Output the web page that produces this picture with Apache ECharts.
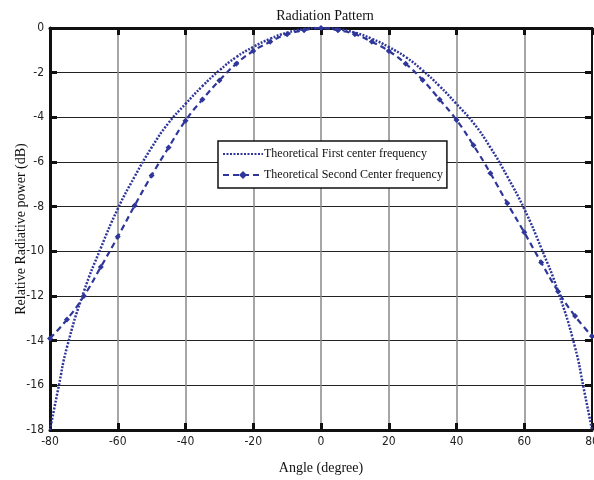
<!DOCTYPE html>
<html>
<head>
<meta charset="utf-8">
<script src="https://cdn.jsdelivr.net/npm/echarts@6/dist/echarts.min.js"></script>
<style>html,body{margin:0;padding:0;background:#fff;}#c{width:594px;height:480px;}</style>
</head>
<body>
<div id="c"></div>
<script>
var titleText = 'Radiation Pattern';
var xName = 'Angle (degree)';
var yName = 'Relative Radiative power (dB)';
var seriesNames = ['Theoretical First center frequency', 'Theoretical Second Center frequency'];

var anglesFirst = [-80,-77.5,-75,-70,-65,-60,-55,-50,-45,-40,-35,-30,-25,-20,-15,-10,-5,0,5,10,15,20,25,30,35,40,45,50,55,60,65,70,75,77.5,80];
var firstFreq = [-18,-16.1,-14.3,-11.8,-9.85,-8.1,-6.65,-5.35,-4.25,-3.4,-2.6,-1.9,-1.3,-0.85,-0.48,-0.21,-0.05,0,-0.05,-0.21,-0.48,-0.85,-1.3,-1.9,-2.6,-3.4,-4.25,-5.35,-6.65,-8.1,-9.85,-11.8,-14.3,-16.1,-18];

var anglesSecond = [-80,-75,-70,-65,-60,-55,-50,-45,-40,-35,-30,-25,-20,-15,-10,-5,0,5,10,15,20,25,30,35,40,45,50,55,60,65,70,75,80];
var secondFreq = [-13.9,-13.05,-12.0,-10.7,-9.35,-7.95,-6.6,-5.35,-4.15,-3.2,-2.35,-1.6,-1.03,-0.62,-0.28,-0.1,0,-0.1,-0.28,-0.62,-1.03,-1.6,-2.33,-3.2,-4.12,-5.25,-6.5,-7.85,-9.15,-10.5,-11.8,-12.9,-13.8];

var blue = '#2f3699';
function pairs(xs, ys){ return xs.map(function(x,i){ return [x, ys[i]]; }); }

var tickFont = {fontFamily: '"DejaVu Sans Condensed","Liberation Sans Narrow","Liberation Sans",sans-serif', fontSize: 12, color: '#222'};
var serif = '"Liberation Serif","DejaVu Serif",serif';

var chart = echarts.init(document.getElementById('c'), null, {renderer: 'canvas'});
chart.setOption({
  backgroundColor: '#fff',
  animation: false,
  title: {text: titleText, left: 320, textAlign: 'center', top: 4, textStyle: {fontFamily: serif, fontSize: 14, fontWeight: 'normal', color: '#111'}},
  grid: {left: 50, right: 2, top: 28, bottom: 50, show: true, borderColor: '#111', borderWidth: 2, containLabel: false, outerBoundsMode: 'none'},
  legend: {
    orient: 'vertical', left: 218, top: 141, width: 225,
    backgroundColor: '#fff', borderColor: '#111', borderWidth: 1.5, borderRadius: 0,
    padding: [7, 4, 7, 4], itemGap: 9, itemWidth: 40, itemHeight: 10,
    textStyle: {fontFamily: serif, fontSize: 12, color: '#111', padding: [0,0,0,-4]},
    data: [{name: seriesNames[0], itemStyle: {opacity: 0}}, {name: seriesNames[1]}]
  },
  xAxis: [{
    type: 'value', min: -80, max: 80, interval: 20, position: 'bottom',
    name: xName, nameLocation: 'middle', nameGap: 31, nameMoveOverlap: false,
    nameTextStyle: {fontFamily: serif, fontSize: 14, color: '#111'},
    axisLine: {show: true, onZero: false, lineStyle: {color: '#111', width: 3}},
    axisTick: {show: true, inside: true, length: 7, lineStyle: {color: '#111', width: 3}},
    axisLabel: Object.assign({margin: 6}, tickFont),
    splitLine: {show: true, lineStyle: {color: '#888', width: 1.5}}
  }, {
    type: 'value', min: -80, max: 80, interval: 20, position: 'top',
    axisLine: {show: true, onZero: false, lineStyle: {color: '#111', width: 3}},
    axisTick: {show: true, inside: true, length: 7, lineStyle: {color: '#111', width: 3}},
    axisLabel: {show: false}, splitLine: {show: false}
  }],
  yAxis: [{
    type: 'value', min: -18, max: 0, interval: 2, position: 'left',
    name: yName, nameLocation: 'middle', nameGap: 22, nameRotate: 90, nameMoveOverlap: false,
    nameTextStyle: {fontFamily: serif, fontSize: 14, color: '#111'},
    axisLine: {show: true, onZero: false, lineStyle: {color: '#111', width: 3}},
    axisTick: {show: true, inside: true, length: 7, lineStyle: {color: '#111', width: 3}},
    axisLabel: Object.assign({margin: 6}, tickFont),
    splitLine: {show: true, lineStyle: {color: '#222', width: 1.2}}
  }, {
    type: 'value', min: -18, max: 0, interval: 2, position: 'right',
    axisLine: {show: true, onZero: false, lineStyle: {color: '#111', width: 2}},
    axisTick: {show: true, inside: true, length: 7, lineStyle: {color: '#111', width: 3}},
    axisLabel: {show: false}, splitLine: {show: false}
  }],
  series: [{
    name: seriesNames[0], type: 'line', smooth: true, showSymbol: false, symbol: 'none',
    data: pairs(anglesFirst, firstFreq),
    lineStyle: {color: blue, width: 2.5, type: [2, 1.5]},
    itemStyle: {color: blue}, z: 3
  }, {
    name: seriesNames[1], type: 'line', smooth: true, symbol: 'diamond', symbolSize: 6,
    data: pairs(anglesSecond, secondFreq),
    lineStyle: {color: blue, width: 2.2, type: [6, 4]},
    itemStyle: {color: blue}, z: 3
  }]
});
</script>
</body>
</html>
